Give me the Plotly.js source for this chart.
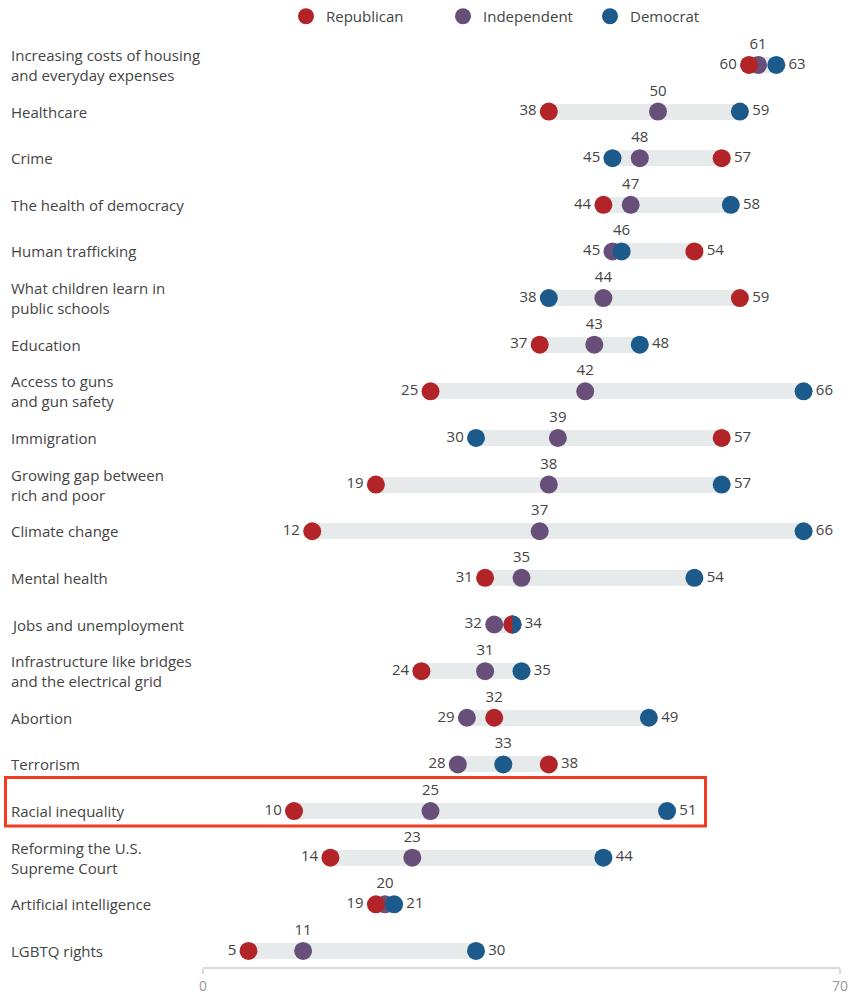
<!DOCTYPE html>
<html><head><meta charset="utf-8">
<script src="https://cdn.plot.ly/plotly-3.0.1.min.js"></script>
<style>html,body{margin:0;padding:0;background:#fff}#chart{width:854px;height:995px}</style>
</head><body><div id="chart"></div>
<script>
const categories = [
  "Increasing costs of housing<br>and everyday expenses",
  "Healthcare",
  "Crime",
  "The health of democracy",
  "Human trafficking",
  "What children learn in<br>public schools",
  "Education",
  "Access to guns<br>and gun safety",
  "Immigration",
  "Growing gap between<br>rich and poor",
  "Climate change",
  "Mental health",
  "Jobs and unemployment",
  "Infrastructure like bridges<br>and the electrical grid",
  "Abortion",
  "Terrorism",
  "Racial inequality",
  "Reforming the U.S.<br>Supreme Court",
  "Artificial intelligence",
  "LGBTQ rights"
];
const republican  = [60, 38, 57, 44, 54, 59, 37, 25, 57, 19, 12, 31, 34, 24, 32, 38, 10, 14, 19, 5];
const independent = [61, 50, 48, 47, 45, 44, 43, 42, 39, 38, 37, 35, 32, 31, 29, 28, 25, 23, 20, 11];
const democrat    = [63, 59, 45, 58, 46, 38, 48, 66, 30, 57, 66, 54, 34, 35, 49, 33, 51, 44, 21, 30];
const axisTicks = [0, 70];
const highlightCategory = "Racial inequality";

const C = {rep:'#b22428', ind:'#684f7a', dem:'#1b5a8b', bar:'#e6eaea', text:'#444444', axis:'#d9d9d9', tick:'#999999', hl:'#f03a22'};
const FONT = '"Open Sans", "Noto Sans", sans-serif';
const idx = categories.map((_, i) => i);

const mins = idx.map(i => Math.min(republican[i], independent[i], democrat[i]));
const maxs = idx.map(i => Math.max(republican[i], independent[i], democrat[i]));
const mids = idx.map(i => [republican[i], independent[i], democrat[i]].sort((a,b)=>a-b)[1]);

const traces = [];
traces.push({type:'bar', orientation:'h', y: idx, base: mins, x: idx.map(i => maxs[i]-mins[i]),
  width: 0.343, marker:{color:C.bar}, hoverinfo:'skip', showlegend:false});

const dotTrace = (name, vals, color, legend) => ({type:'scatter', mode:'markers', name, x: vals, y: idx,
  marker:{size:18, color, line:{width:0}}, legend, cliponaxis:false, hoverinfo:'x+name'});
traces.push(dotTrace('Independent', independent, C.ind, 'legend2'));
traces.push(dotTrace('Democrat', democrat, C.dem, 'legend3'));
traces.push(dotTrace('Republican', republican, C.rep, 'legend'));

const labelTrace = (xs, ys, texts, pos) => ({type:'scatter', mode:'markers+text', x: xs, y: ys, text: texts,
  textposition: pos, marker:{size:18, color:'rgba(0,0,0,0)'}, textfont:{family:FONT, size:15, color:C.text},
  showlegend:false, hoverinfo:'skip', cliponaxis:false});
traces.push(labelTrace(mins, idx, mins.map(String), 'middle left'));
traces.push(labelTrace(maxs, idx, maxs.map(String), 'middle right'));
const topIdx = idx.filter(i => mids[i] !== mins[i] && mids[i] !== maxs[i]);
traces.push(labelTrace(topIdx.map(i => mids[i]), topIdx, topIdx.map(i => String(mids[i])), 'top center'));

const PLOT_W = 637, PLOT_H = 967;
const annotations = categories.map((c, i) => ({xref:'paper', yref:'y', x: -194/PLOT_W, y: i, xanchor:'left', yanchor:'middle',
  text: c, align:'left', showarrow:false, font:{family:FONT, size:15, color:C.text}}));

const shapes = [];
// tie between Republican and Democrat: split dot (blue right half over red)
idx.forEach(i => {
  if (republican[i] === democrat[i]) {
    shapes.push({type:'path', xref:'x', yref:'y', xsizemode:'pixel', ysizemode:'pixel',
      xanchor: democrat[i], yanchor: i,
      path:'M0,-9 C4.97,-9 9,-4.97 9,0 C9,4.97 4.97,9 0,9 Z',
      fillcolor:C.dem, line:{width:0}, layer:'above'});
  }
});
const hi = categories.indexOf(highlightCategory);
shapes.push({type:'rect', xref:'paper', yref:'y', x0:-197.5/PLOT_W, x1:502.5/PLOT_W, y0: hi-0.72, y1: hi+0.32,
  line:{color:C.hl, width:3}, fillcolor:'rgba(0,0,0,0)', layer:'above'});

const legendBase = {orientation:'h', xanchor:'left', yanchor:'middle', y: 1 - 16/PLOT_H,
  bgcolor:'rgba(0,0,0,0)', font:{family:FONT, size:15, color:C.text}};
const layout = {
  width:854, height:995, margin:{l:203, r:14, t:0, b:28},
  paper_bgcolor:'#fff', plot_bgcolor:'#fff', font:{family:FONT, color:C.text},
  bargap:0, barmode:'overlay',
  xaxis:{range:[0,70], tickvals:axisTicks, ticks:'outside', ticklen:5, tickwidth:2, tickcolor:C.axis,
    showline:true, linecolor:C.axis, linewidth:2, showgrid:false, zeroline:false,
    tickfont:{family:FONT, size:14, color:C.tick}, fixedrange:true},
  yaxis:{range:[19.345, -1.371], showticklabels:false, showgrid:false, zeroline:false, showline:false, ticks:'', fixedrange:true},
  showlegend:true,
  legend: Object.assign({}, legendBase, {x:(286-203)/PLOT_W}),
  legend2: Object.assign({}, legendBase, {x:(443-203)/PLOT_W}),
  legend3: Object.assign({}, legendBase, {x:(590-203)/PLOT_W}),
  annotations, shapes
};
Plotly.newPlot('chart', traces, layout, {displayModeBar:false, staticPlot:true});
</script></body></html>
